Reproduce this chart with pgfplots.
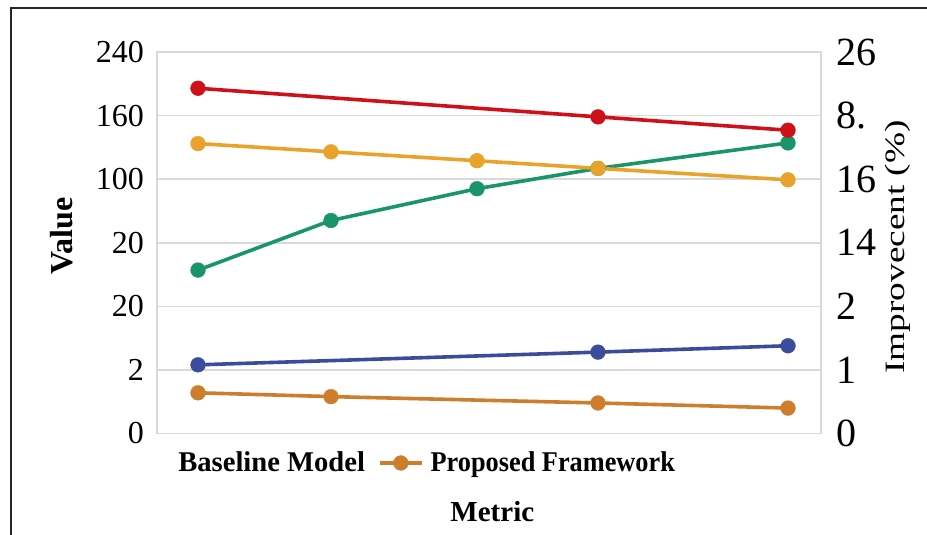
\documentclass[border=0pt]{standalone}
\usepackage{fontspec}
\setmainfont{Liberation Serif}
\usepackage{graphicx}
\usepackage{pgfplots}
\pgfplotsset{compat=1.18}

\definecolor{lnred}{RGB}{206,16,24}
\definecolor{lnyellow}{RGB}{233,163,42}
\definecolor{lngreen}{RGB}{24,150,106}
\definecolor{lnblue}{RGB}{58,76,155}
\definecolor{lnbrown}{RGB}{205,125,44}
\definecolor{gridgray}{RGB}{217,217,217}

\pgfplotsset{
  ser/.style={color=#1, line width=1.8pt, mark=*, mark size=3.7pt,
              mark options={solid, fill=#1, draw=#1, line width=0.2pt}},
}

\begin{document}
\begin{tikzpicture}
% main value axis
\begin{axis}[
  at={(78.5pt,50.75pt)}, anchor=south west,
  width=332pt, height=190.75pt, scale only axis,
  xmin=157, xmax=821, ymin=0, ymax=6,
  xtick=\empty,
  ytick={0,1,2,3,4,5,6},
  yticklabels={{\textrm{0}},{\textrm{2}},{\textrm{20}},{\textrm{20}},{\textrm{100}},{\textrm{160}},{\textrm{240}}},
  major tick length=0pt,
  ymajorgrids, grid style={gridgray, line width=0.8pt},
  axis line style={gridgray, line width=0.8pt},
  /pgf/number format/assume math mode=true,
  yticklabel style={font=\fontsize{16}{16}\selectfont, text=black, xshift=-3pt},
  ylabel={Value},
  ylabel style={font=\bfseries\fontsize{16}{16}\selectfont,
                at={(axis description cs:-0.143,0.517)}, anchor=center},
  xlabel={Metric},
  xlabel style={font=\bfseries\fontsize{14.5}{14.5}\selectfont,
                at={(axis description cs:0.505,-0.205)}, anchor=center},
  legend columns=2,
  legend style={at={(0.021,-0.0773)}, anchor=west, draw=none, fill=none,
                font=\bfseries\fontsize{14.3}{14.3}\selectfont, inner sep=0pt,
                nodes={inner xsep=3.5pt},
                /tikz/every even column/.append style={column sep=3pt}},
  legend image code/.code={\draw[mark repeat=2,mark phase=2,#1]
      plot coordinates {(0pt,0pt) (10.5pt,0pt) (21pt,0pt)};},
]
\addlegendimage{empty legend}
\addlegendentry{Baseline Model}

\addplot[ser=lngreen, forget plot] coordinates {
  (198,2.57) (331,3.35) (477,3.85) (598,4.17) (788,4.57)};
\addplot[ser=lnyellow, forget plot] coordinates {
  (198,4.56) (331,4.43) (477,4.29) (598,4.17) (788,3.99)};
\addplot[ser=lnred, forget plot] coordinates {
  (198,5.43) (598,4.98) (788,4.77)};
\addplot[ser=lnblue, forget plot] coordinates {
  (198,1.08) (598,1.28) (788,1.38)};
\addplot[ser=lnbrown] coordinates {
  (198,0.64) (331,0.58) (598,0.48) (788,0.40)};
\addlegendentry{\scalebox{0.92}[1]{Proposed Framework}}
\end{axis}

% secondary improvement axis (labels only)
\begin{axis}[
  at={(78.5pt,50.75pt)}, anchor=south west,
  width=332pt, height=190.75pt, scale only axis,
  xmin=157, xmax=821, ymin=0, ymax=6,
  axis x line=none, axis y line*=right,
  axis line style={draw=none},
  major tick length=0pt,
  /pgf/number format/assume math mode=true,
  ytick={0,1,2,3,4,5,6},
  yticklabels={{\textrm{0}},{\textrm{1}},{\textrm{2}},{\textrm{14}},{\textrm{16}},{\textrm{8.}},{\textrm{26}}},
  yticklabel style={font=\fontsize{20}{20}\selectfont, text=black, xshift=4pt},
  ylabel={\scalebox{1.33}[1]{Improvecent (\%)}},
  ylabel style={font=\fontsize{14}{14}\selectfont,
                at={(axis description cs:1.116,0.489)}, anchor=center},
]
\end{axis}

% outer frame
\draw[line width=1.1pt, black!85] (5.5pt,-20pt) -- (5.5pt,263.5pt) -- (520pt,263.5pt);
\pgfresetboundingbox
\useasboundingbox (0,0) rectangle (463.5pt,267.5pt);
\end{tikzpicture}
\end{document}
